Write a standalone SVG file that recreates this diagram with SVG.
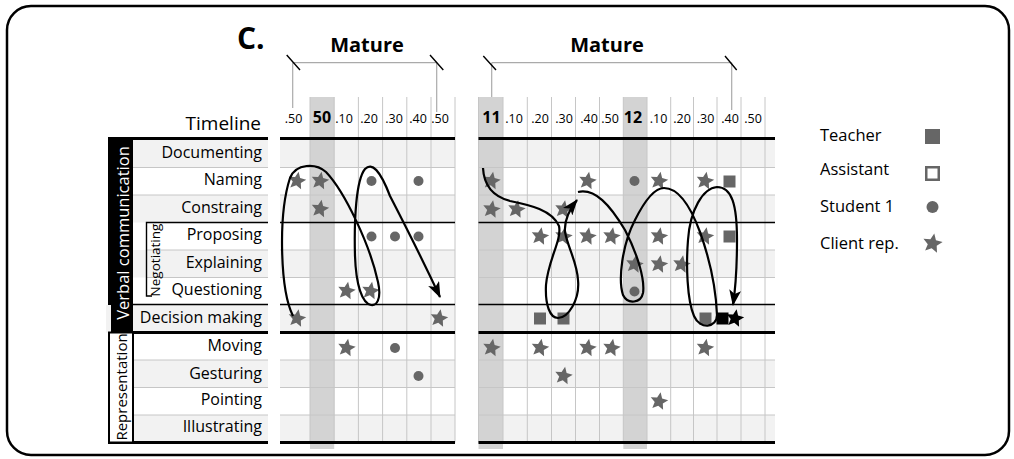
<svg xmlns="http://www.w3.org/2000/svg" xmlns:xlink="http://www.w3.org/1999/xlink" width="1014" height="459" viewBox="0 0 1014 459">
<style>
text{font-family:"Open Sans","Liberation Sans",sans-serif;fill:#000}
.lab{font-size:16px;text-anchor:end}
.hd{font-size:12.5px;text-anchor:middle}
.hdb{font-size:16px;font-weight:bold;text-anchor:middle}
.ttl{font-size:20px;font-weight:bold;text-anchor:middle}
.leg{font-size:16.5px}
.g{fill:#f2f2f2}
.sh{fill:#d3d3d3}
.gl{stroke:#c6c6c6;stroke-width:1;fill:none}
.thk{stroke:#000;stroke-width:3;fill:none}
.thn{stroke:#000;stroke-width:1.4;fill:none}
.br{stroke:#aaa;stroke-width:1.2;fill:none}
.tk{stroke:#000;stroke-width:1.4}
.sym{fill:#666}
.cv{fill:none;stroke:#000;stroke-width:2.2;marker-end:url(#ah)}
</style>
<defs>
<path id="star" transform="rotate(10)" d="M0,-9.3 L2.55,-3.5 L8.84,-2.87 L4.12,1.34 L5.47,7.52 L0,4.33 L-5.47,7.52 L-4.12,1.34 L-8.84,-2.87 L-2.55,-3.5 Z"/>
<marker id="ah" viewBox="0 0 16 12" refX="15" refY="6" markerWidth="16" markerHeight="12" markerUnits="userSpaceOnUse" orient="auto">
<path d="M0,0 L16,6 L0,12 L4,6 Z" fill="#000"/>
</marker>
</defs>
<rect width="1014" height="459" fill="#fff"/>
<rect x="7" y="6" width="1002" height="449" rx="24" fill="none" stroke="#000" stroke-width="2.5"/>

<text x="237" y="49" style="font-size:30px;font-weight:bold">C.</text>

<g id="bracket-left">
<text class="ttl" x="367" y="51.5">Mature</text>
<path class="br" d="M292.7,62.7 H436.7 M292.7,62.7 V108 M436.7,62.7 V112"/>
<path class="tk" d="M286.7,55 L300,70 M430,55 L443.3,70"/>
</g>
<g id="bracket-right">
<text class="ttl" x="607" y="51.5">Mature</text>
<path class="br" d="M491.7,62.7 H731.7 M491.7,62.7 V107 M731.7,62.7 V110"/>
<path class="tk" d="M483.3,56 L496,70 M725,56 L736.7,70"/>
</g>

<!-- grey row backgrounds -->
<g id="rows-bg">
<rect class="g" x="133" y="140" width="135" height="27.5"/><rect class="g" x="280" y="140" width="175" height="27.5"/><rect class="g" x="478.5" y="140" width="296.5" height="27.5"/>
<rect class="g" x="133" y="195" width="135" height="27.5"/><rect class="g" x="280" y="195" width="175" height="27.5"/><rect class="g" x="478.5" y="195" width="296.5" height="27.5"/>
<rect class="g" x="133" y="250" width="135" height="27.5"/><rect class="g" x="280" y="250" width="175" height="27.5"/><rect class="g" x="478.5" y="250" width="296.5" height="27.5"/>
<rect class="g" x="106" y="305" width="162" height="27.5"/><rect class="g" x="280" y="305" width="175" height="27.5"/><rect class="g" x="478.5" y="305" width="296.5" height="27.5"/>
<rect class="g" x="133" y="360" width="135" height="27.5"/><rect class="g" x="280" y="360" width="175" height="27.5"/><rect class="g" x="478.5" y="360" width="296.5" height="27.5"/>
<rect class="g" x="133" y="415" width="135" height="27.5"/><rect class="g" x="280" y="415" width="175" height="27.5"/><rect class="g" x="478.5" y="415" width="296.5" height="27.5"/>
</g>

<!-- shaded hour columns -->
<rect class="sh" x="310" y="97" width="24.2" height="352"/>
<rect class="sh" x="478.5" y="97" width="24.5" height="352"/>
<rect class="sh" x="623.3" y="97" width="23.7" height="352"/>

<!-- grid lines -->
<g id="grid">
<path class="gl" d="M310,97 V442.5 M334.2,97 V442.5 M358.4,97 V442.5 M382.6,97 V442.5 M406.8,97 V442.5 M431,97 V442.5 M455,97 V442.5"/>
<path class="gl" d="M478.5,97 V442.5 M503,97 V442.5 M527.3,97 V442.5 M551.5,97 V442.5 M575.5,97 V442.5 M599.5,97 V442.5 M623.3,97 V442.5 M647,97 V442.5 M670.7,97 V442.5 M693.5,97 V442.5 M717,97 V442.5 M741,97 V442.5 M765,97 V442.5"/>
<path class="gl" d="M133,167.5 H268 M280,167.5 H455 M478.5,167.5 H775 M133,195 H268 M280,195 H455 M478.5,195 H775 M147,250 H268 M280,250 H455 M478.5,250 H775 M147,277.5 H268 M280,277.5 H455 M478.5,277.5 H775 M133,360 H268 M280,360 H455 M478.5,360 H775 M133,387.5 H268 M280,387.5 H455 M478.5,387.5 H775 M133,415 H268 M280,415 H455 M478.5,415 H775"/>
<path class="thk" d="M133,138.5 H268 M280,138.5 H455 M478.5,138.5 H775 M133,332.5 H268 M280,332.5 H455 M478.5,332.5 H775 M108,442.5 H268 M280,442.5 H455 M478.5,442.5 H775"/>
<path class="thn" d="M280,222.5 H455 M478.5,222.5 H775 M133,304.5 H268 M280,304.5 H455 M478.5,304.5 H775"/>
</g>

<!-- header -->
<g id="header">
<text x="261" y="130" style="font-size:19px;text-anchor:end">Timeline</text>
<text class="hd" x="293.5" y="123">.50</text>
<text class="hdb" x="322" y="123">50</text>
<text class="hd" x="344" y="123">.10</text>
<text class="hd" x="369" y="123">.20</text>
<text class="hd" x="394" y="123">.30</text>
<text class="hd" x="418" y="123">.40</text>
<text class="hd" x="440" y="123">.50</text>
<text class="hdb" x="491.5" y="123">11</text>
<text class="hd" x="514" y="123">.10</text>
<text class="hd" x="540" y="123">.20</text>
<text class="hd" x="564" y="123">.30</text>
<text class="hd" x="589" y="123">.40</text>
<text class="hd" x="610" y="123">.50</text>
<text class="hdb" x="633" y="123">12</text>
<text class="hd" x="658.5" y="123">.10</text>
<text class="hd" x="682" y="123">.20</text>
<text class="hd" x="705.5" y="123">.30</text>
<text class="hd" x="730" y="123">.40</text>
<text class="hd" x="753" y="123">.50</text>
</g>

<!-- category bars -->
<g id="cat-verbal">
<rect x="108" y="137" width="25" height="168" fill="#000"/>
<rect x="111" y="304" width="22" height="28.5" fill="#000"/>
<text transform="translate(128.5,233) rotate(-90)" style="font-size:16.5px;text-anchor:middle;fill:#fff">Verbal communication</text>
</g>
<g id="cat-representation">
<rect x="109" y="332.5" width="24" height="110" fill="#fff" stroke="#000" stroke-width="2"/>
<text transform="translate(126.5,387) rotate(-90)" style="font-size:15px;text-anchor:middle">Representation</text>
</g>
<g id="cat-negotiating">
<path d="M268,222.5 H146.5 V296 H152" fill="none" stroke="#000" stroke-width="1.4"/>
<text transform="translate(160,260) rotate(-90)" style="font-size:13.5px;text-anchor:middle">Negotiating</text>
</g>

<!-- row labels -->
<g id="row-documenting"><text class="lab" x="262" y="158">Documenting</text></g>
<g id="row-naming"><text class="lab" x="262" y="185.3">Naming</text></g>
<g id="row-constraing"><text class="lab" x="262" y="212.8">Constraing</text></g>
<g id="row-proposing"><text class="lab" x="262" y="240.3">Proposing</text></g>
<g id="row-explaining"><text class="lab" x="262" y="267.8">Explaining</text></g>
<g id="row-questioning"><text class="lab" x="262" y="295.3">Questioning</text></g>
<g id="row-decision"><text class="lab" x="262" y="322.8">Decision making</text></g>
<g id="row-moving"><text class="lab" x="262" y="351.3">Moving</text></g>
<g id="row-gesturing"><text class="lab" x="262" y="378.8">Gesturing</text></g>
<g id="row-pointing"><text class="lab" x="262" y="405.3">Pointing</text></g>
<g id="row-illustrating"><text class="lab" x="262" y="432.3">Illustrating</text></g>

<!-- symbols -->
<g id="symbols" class="sym">
<use xlink:href="#star" href="#star" x="297" y="181"/>
<use xlink:href="#star" href="#star" x="320" y="181"/>
<use xlink:href="#star" href="#star" x="320" y="209"/>
<use xlink:href="#star" href="#star" x="346.5" y="291"/>
<use xlink:href="#star" href="#star" x="370.5" y="291"/>
<use xlink:href="#star" href="#star" x="297" y="318.5"/>
<use xlink:href="#star" href="#star" x="439" y="318.5"/>
<use xlink:href="#star" href="#star" x="346.5" y="348"/>
<circle cx="371.5" cy="181" r="5"/>
<circle cx="418.5" cy="181" r="5"/>
<circle cx="371.5" cy="236.5" r="5"/>
<circle cx="395" cy="236.5" r="5"/>
<circle cx="418.5" cy="236.5" r="5"/>
<circle cx="395" cy="348" r="5"/>
<circle cx="418.5" cy="376" r="5"/>

<use xlink:href="#star" href="#star" x="491.5" y="181"/>
<use xlink:href="#star" href="#star" x="587.5" y="181"/>
<use xlink:href="#star" href="#star" x="659" y="181"/>
<use xlink:href="#star" href="#star" x="705" y="181"/>
<use xlink:href="#star" href="#star" x="491.5" y="209.5"/>
<use xlink:href="#star" href="#star" x="516.5" y="209.5"/>
<use xlink:href="#star" href="#star" x="563.5" y="209.5"/>
<use xlink:href="#star" href="#star" x="540" y="236.5"/>
<use xlink:href="#star" href="#star" x="563.5" y="236.5"/>
<use xlink:href="#star" href="#star" x="587.5" y="236.5"/>
<use xlink:href="#star" href="#star" x="611.5" y="236.5"/>
<use xlink:href="#star" href="#star" x="659" y="236.5"/>
<use xlink:href="#star" href="#star" x="705" y="236.5"/>
<use xlink:href="#star" href="#star" x="634.5" y="264.5"/>
<use xlink:href="#star" href="#star" x="659" y="264.5"/>
<use xlink:href="#star" href="#star" x="681.5" y="264.5"/>
<use xlink:href="#star" href="#star" x="491.5" y="348"/>
<use xlink:href="#star" href="#star" x="540" y="348"/>
<use xlink:href="#star" href="#star" x="587.5" y="348"/>
<use xlink:href="#star" href="#star" x="611.5" y="348"/>
<use xlink:href="#star" href="#star" x="705" y="348"/>
<use xlink:href="#star" href="#star" x="563.5" y="376"/>
<use xlink:href="#star" href="#star" x="659" y="401.5"/>
<circle cx="634.5" cy="181" r="5"/>
<circle cx="634.5" cy="291.5" r="5"/>
<rect x="723.5" y="175.5" width="12" height="12"/>
<rect x="723.5" y="230.5" width="12" height="12"/>
<rect x="534" y="312.5" width="12" height="12"/>
<rect x="557.5" y="312.5" width="12" height="12"/>
<rect x="699.5" y="312.5" width="12" height="12"/>
<rect x="716.5" y="312.5" width="12" height="12" fill="#000"/>
<use xlink:href="#star" href="#star" x="735" y="318.5" fill="#000"/>
</g>

<!-- connectors -->
<g id="connectors">
<path class="cv" d="M293,316 C280,290 278,215 290,178 C296,163 316,163 326,172 C345,192 370,245 378,282 C382,300 376,306 371,305 C362,303 356,285 355,256 C354,220 356,180 365,169 C372,162 380,170 390,196 C405,225 425,265 440,297"/>
<path class="cv" d="M483,168 C484,188 495,197 510,201 C530,205 552,210 559,226 C562,240 548,260 546,285 C545,305 550,318 558,318 C568,318 580,300 578,280 C577,262 568,248 565,232 C564,220 569,210 577,200"/>
<path class="cv" d="M578,192 C595,188 610,205 625,230 C638,255 645,280 643,293 C641,303 628,305 623,295 C618,280 622,245 635,220 C645,200 655,188 664,188 C678,188 690,205 700,232 C710,260 716,290 717,315 C717,328 700,330 694,316 C687,300 686,265 688,240 C690,210 703,188 717,187 C732,187 737,205 737,240 C737,265 736,285 733,305"/>
</g>

<!-- legend -->
<g id="legend-teacher"><text class="leg" x="820" y="141">Teacher</text><rect x="925" y="129" width="15" height="15" fill="#666"/></g>
<g id="legend-assistant"><text class="leg" x="820" y="175">Assistant</text><rect x="926.25" y="167.25" width="12.5" height="12.5" fill="#fff" stroke="#666" stroke-width="2.5"/></g>
<g id="legend-student"><text class="leg" x="820" y="212">Student 1</text><circle cx="932.5" cy="207" r="6" fill="#666"/></g>
<g id="legend-client"><text class="leg" x="820" y="248.5">Client rep.</text><use xlink:href="#star" href="#star" transform="translate(932.5,243.5) scale(1.1)" fill="#666"/></g>
</svg>
